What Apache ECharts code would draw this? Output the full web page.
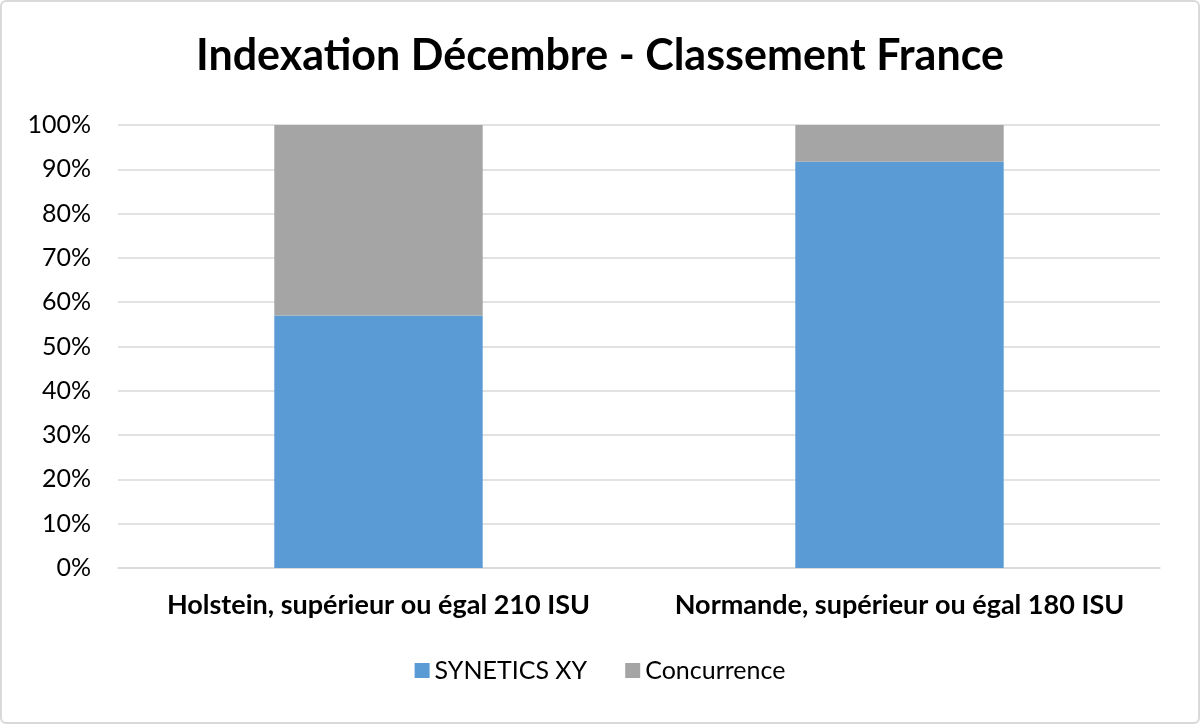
<!DOCTYPE html>
<html><head><meta charset="utf-8">
<script src="https://cdn.jsdelivr.net/npm/echarts@6/dist/echarts.min.js"></script>
<style>html,body{margin:0;padding:0;background:#fff}#c{width:1200px;height:724px;box-sizing:border-box;border:2px solid #d9d9d9;border-radius:6px}</style>
</head><body><div id="c"></div>
<script>
const categories = ['Holstein, supérieur ou égal 210 ISU', 'Normande, supérieur ou égal 180 ISU'];
const synetics = [57, 91.7];
const concurrence = [43, 8.3];
const chart = echarts.init(document.getElementById('c'));
const F = 'Lato';
chart.setOption({
  animation: false,
  title: { text: 'Indexation Décembre - Classement France', left: 'center', top: 28,
    textStyle: { fontFamily: F, fontWeight: 'bold', fontSize: 43, color: '#000' } },
  grid: { left: 116, right: 38, top: 123, bottom: 154 },
  legend: { bottom: 34, left: 'center', itemWidth: 15, itemHeight: 15, itemGap: 38, icon: 'rect',
    textStyle: { fontFamily: F, fontSize: 25, color: '#000' } },
  xAxis: { type: 'category', data: categories,
    axisLine: { lineStyle: { color: '#d9d9d9', width: 1.5 } }, axisTick: { show: false },
    axisLabel: { interval: 0, hideOverlap: false, fontFamily: F, fontWeight: 'bold', fontSize: 27, color: '#000', margin: 24 } },
  yAxis: { type: 'value', min: 0, max: 100, interval: 10,
    axisLabel: { formatter: '{value}%', fontFamily: F, fontSize: 25, color: '#000', margin: 27 },
    splitLine: { lineStyle: { color: '#d9d9d9', width: 1.5 } } },
  series: [
    { name: 'SYNETICS XY', type: 'bar', stack: 'a', data: synetics, barWidth: '40%', itemStyle: { color: '#5b9bd5' } },
    { name: 'Concurrence', type: 'bar', stack: 'a', data: concurrence, barWidth: '40%', itemStyle: { color: '#a5a5a5' } }
  ]
});
</script></body></html>
